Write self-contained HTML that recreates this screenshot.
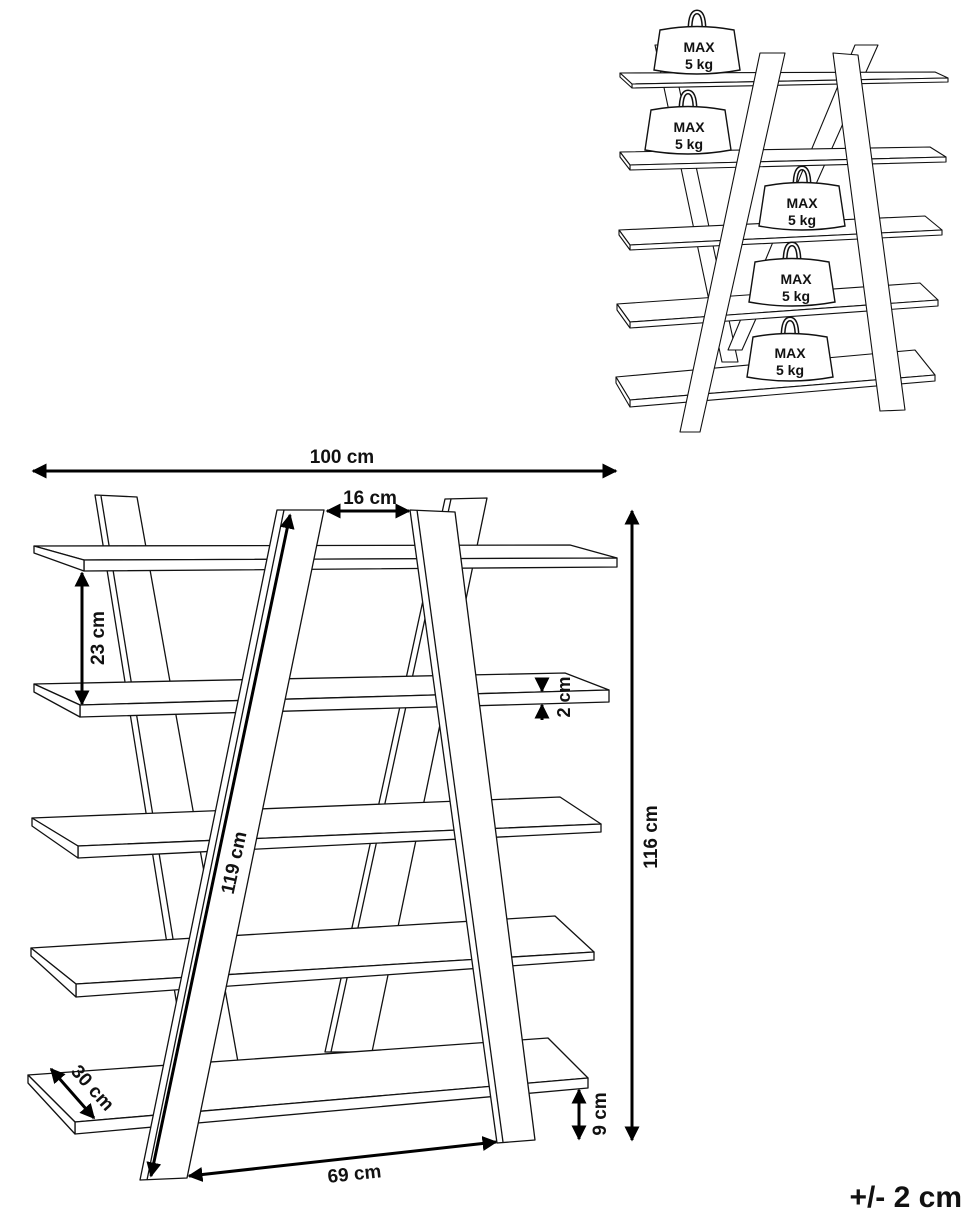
<!DOCTYPE html>
<html><head><meta charset="utf-8"><style>
html,body{margin:0;padding:0;background:#fff;}
svg{display:block;}
text{font-family:"Liberation Sans",sans-serif;font-weight:bold;fill:#111;}
</style></head><body>
<svg width="970" height="1213" viewBox="0 0 970 1213" xmlns="http://www.w3.org/2000/svg">
<defs>
<marker id="a" viewBox="0 0 10 10" refX="9" refY="5" markerWidth="5" markerHeight="5" orient="auto-start-reverse"><path d="M0,0 L10,5 L0,10 z" fill="#000"/></marker>
<g id="w">
<path d="M-7,22 Q-7,4 0,4 Q7,4 7,22" fill="none" stroke="#111" stroke-width="5"/>
<path d="M-7,22 Q-7,4 0,4 Q7,4 7,22" fill="none" stroke="#fff" stroke-width="2"/>
<path d="M-37,22 Q0,15 37,22 L43,62 Q0,70 -43,62 Z" fill="#fff" stroke="#111" stroke-width="1.4"/>
</g>
</defs>
<g fill="#fff" stroke="#111" stroke-width="1.3" stroke-linejoin="round">
<polygon points="95,495 137,497 238,1062 186,1062"/>
<line x1="101" y1="496" x2="193" y2="1062"/>
<polygon points="445,499 487,498 372,1052 325,1052"/>
<line x1="451" y1="499" x2="331" y2="1052"/>
<polygon points="34,546 570,545 617,558 84,560"/><polygon points="84,560 617,558 617,567 84,571"/><polygon points="34,546 84,560 84,571 34,553"/>
<polygon points="34,684 565,673 609,690 80,705"/><polygon points="80,705 609,690 609,702 80,717"/><polygon points="34,684 80,705 80,717 34,692"/>
<polygon points="32,818 560,797 601,824 78,846"/><polygon points="78,846 601,824 601,832 78,858"/><polygon points="32,818 78,846 78,858 32,826"/>
<polygon points="31,948 555,916 594,952 76,984"/><polygon points="76,984 594,952 594,960 76,997"/><polygon points="31,948 76,984 76,997 31,956"/>
<polygon points="28,1075 548,1038 588,1078 75,1122"/><polygon points="75,1122 588,1078 588,1088 75,1134"/><polygon points="28,1075 75,1122 75,1134 28,1083"/>
<polygon points="277,510 324,510 187,1178 140,1180"/>
<line x1="284" y1="510" x2="147" y2="1180"/>
<polygon points="410,510 455,512 535,1140 497,1143"/>
<line x1="417" y1="510" x2="503" y2="1142"/>
</g>
<g stroke="#000" stroke-width="3" fill="none" marker-start="url(#a)" marker-end="url(#a)">
<line x1="33" y1="471" x2="616" y2="471"/>
<line x1="632" y1="511" x2="632" y2="1140"/>
<line x1="327" y1="511" x2="409" y2="511"/>
<line x1="82" y1="573" x2="82" y2="704"/>
<line x1="290" y1="515" x2="151" y2="1176"/>
<line x1="189" y1="1176" x2="496" y2="1142"/>
<line x1="51" y1="1069" x2="94" y2="1118"/>
<line x1="579" y1="1090" x2="579" y2="1139"/>
</g>
<g stroke="#000" stroke-width="3" fill="none" marker-end="url(#a)">
<line x1="542" y1="678" x2="542" y2="691"/>
<line x1="542" y1="720" x2="542" y2="705"/>
</g>
<text x="342" y="463" font-size="19" text-anchor="middle">100 cm</text>
<text x="370" y="504" font-size="19" text-anchor="middle">16 cm</text>
<text transform="translate(104,638) rotate(-90)" font-size="19" text-anchor="middle">23 cm</text>
<text transform="translate(570,697) rotate(-90)" font-size="18" text-anchor="middle">2 cm</text>
<text transform="translate(657,837) rotate(-90)" font-size="19" text-anchor="middle">116 cm</text>
<text transform="translate(240,864) rotate(-78)" font-size="19" text-anchor="middle">119 cm</text>
<text transform="translate(355,1180) rotate(-6)" font-size="19" text-anchor="middle">69 cm</text>
<text transform="translate(88,1092) rotate(48)" font-size="19" text-anchor="middle">30 cm</text>
<text transform="translate(606,1114) rotate(-90)" font-size="19" text-anchor="middle">9 cm</text>
<text x="962" y="1207" font-size="30" text-anchor="end">+/- 2 cm</text>
<g fill="#fff" stroke="#111" stroke-width="1.1" stroke-linejoin="round">
<polygon points="655,45 670,45 738,362 722,362"/>
<polygon points="855,45 878,45 742,350 728,350"/>
<polygon points="620,73 935,72 948,78 632,84"/><polygon points="632,84 948,78 948,82 632,88"/><polygon points="620,73 632,84 632,88 620,77"/>
<polygon points="620,152 930,147 946,157 630,165"/><polygon points="630,165 946,157 946,162 630,170"/><polygon points="620,152 630,165 630,170 620,157"/>
<polygon points="619,230 925,216 942,230 630,245"/><polygon points="630,245 942,230 942,235 630,250"/><polygon points="619,230 630,245 630,250 619,235"/>
<polygon points="617,304 920,283 938,300 630,322"/><polygon points="630,322 938,300 938,306 630,328"/><polygon points="617,304 630,322 630,328 617,310"/>
<polygon points="616,377 915,350 935,375 630,400"/><polygon points="630,400 935,375 935,381 630,407"/><polygon points="616,377 630,400 630,407 616,383"/>
<polygon points="760,53 785,53 700,432 680,432"/>
<polygon points="833,53 858,55 905,410 880,411"/>
</g>
<use href="#w" transform="translate(697,8)"/>
<use href="#w" transform="translate(688,88)"/>
<use href="#w" transform="translate(802,164)"/>
<use href="#w" transform="translate(792,240)"/>
<use href="#w" transform="translate(790,315)"/>
<g font-size="14" text-anchor="middle">
<text x="699" y="52">MAX</text><text x="699" y="69">5 kg</text>
<text x="689" y="132">MAX</text><text x="689" y="149">5 kg</text>
<text x="802" y="208">MAX</text><text x="802" y="225">5 kg</text>
<text x="796" y="284">MAX</text><text x="796" y="301">5 kg</text>
<text x="790" y="358">MAX</text><text x="790" y="375">5 kg</text>
</g>
</svg>
</body></html>
